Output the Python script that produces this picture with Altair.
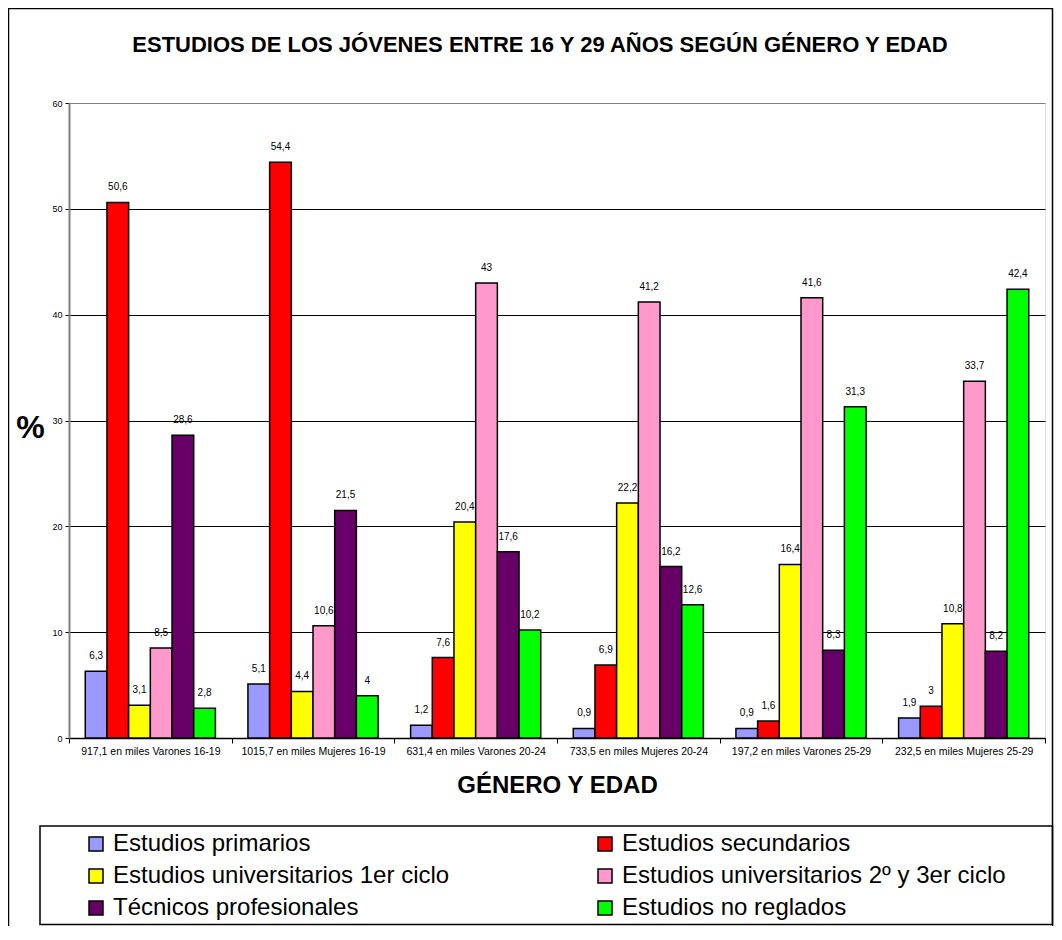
import altair as alt
import pandas as pd

FONT = "Liberation Sans, Arial, sans-serif"

title_text = "ESTUDIOS DE LOS JÓVENES ENTRE 16 Y 29 AÑOS SEGÚN GÉNERO Y EDAD"

groups = [
    "917,1 en miles Varones 16-19",
    "1015,7 en miles Mujeres 16-19",
    "631,4 en miles Varones 20-24",
    "733,5 en miles Mujeres 20-24",
    "197,2 en miles Varones 25-29",
    "232,5 en miles Mujeres 25-29",
]
series = [
    "Estudios primarios",
    "Estudios secundarios",
    "Estudios universitarios 1er ciclo",
    "Estudios universitarios 2º y 3er ciclo",
    "Técnicos profesionales",
    "Estudios no reglados",
]
colors = ["#9999FF", "#FF0000", "#FFFF00", "#FF99CC", "#660066", "#00FF00"]

primarios = [6.3, 5.1, 1.2, 0.9, 0.9, 1.9]
secundarios = [50.6, 54.4, 7.6, 6.9, 1.6, 3.0]
univ_1 = [3.1, 4.4, 20.4, 22.2, 16.4, 10.8]
univ_23 = [8.5, 10.6, 43.0, 41.2, 41.6, 33.7]
tecnicos = [28.6, 21.5, 17.6, 16.2, 8.3, 8.2]
no_reglados = [2.8, 4.0, 10.2, 12.6, 31.3, 42.4]

values = [primarios, secundarios, univ_1, univ_23, tecnicos, no_reglados]

rows = []
for s, vals in zip(series, values):
    for g, v in zip(groups, vals):
        rows.append({"grupo": g, "serie": s, "valor": v,
                     "etiqueta": f"{v:g}".replace(".", ",")})
df = pd.DataFrame(rows)

W, H = 976, 635

x_enc = alt.X(
    "grupo:N", sort=groups,
    scale=alt.Scale(paddingInner=0, paddingOuter=0),
    axis=alt.Axis(
        title="GÉNERO Y EDAD", labelAngle=0, tickBand="extent",
        labelFontSize=10.5, labelColor="black", labelFont=FONT, labelPadding=3,
        tickSize=5, tickColor="black", tickWidth=1,
        domainColor="black", domainWidth=1.5,
        titleFont=FONT, titleFontSize=24, titleFontWeight="bold", titleColor="black",
        titleY=47, titleBaseline="middle", labelLimit=300,
    ),
)
xoff_enc = alt.XOffset("serie:N", sort=series,
                       scale=alt.Scale(paddingOuter=0.75, paddingInner=0))
y_enc = alt.Y(
    "valor:Q",
    scale=alt.Scale(domain=[0, 60], nice=False, zero=True),
    axis=alt.Axis(
        values=[0, 10, 20, 30, 40, 50, 60], title="%",
        labelFontSize=9, labelColor="black", labelFont=FONT, labelPadding=3,
        tickSize=4, tickColor="black", tickWidth=1,
        domainColor="#808080", domainWidth=2,
        grid=True, gridWidth=1,
        gridColor={"condition": {"test": "datum.value == 60 || datum.value == 0",
                                 "value": "#808080"}, "value": "black"},
        titleAngle=0, titleFont=FONT, titleFontSize=32, titleFontWeight="bold",
        titleColor="black", titleX=-39, titleY=324, titleAlign="center",
        titleBaseline="middle",
    ),
)

bars = alt.Chart(df).mark_bar(stroke="black", strokeWidth=1.5).encode(
    x=x_enc, xOffset=xoff_enc, y=y_enc,
    color=alt.Color(
        "serie:N", sort=series, title=None,
        scale=alt.Scale(domain=series, range=colors),
        legend=alt.Legend(
            orient="none", legendX=15, legendY=729, columns=2,
            direction="horizontal",
            columnPadding=143, rowPadding=8,
            symbolType="square", symbolSize=196, symbolStrokeColor="black",
            symbolStrokeWidth=1.5, symbolOpacity=1,
            labelFont=FONT, labelFontSize=24, labelColor="black",
            labelOffset=5, labelLimit=600, padding=0,
        ),
    ),
)

labels = alt.Chart(df).mark_text(
    dy=-15, baseline="middle", fontSize=10, color="black", font=FONT
).encode(x=alt.X("grupo:N", sort=groups), xOffset=xoff_enc,
         y=alt.Y("valor:Q"), text="etiqueta:N")

frame_df = pd.DataFrame({"k": [0]})
title_df = pd.DataFrame({"t": [title_text]})

title_mark = alt.Chart(title_df).mark_text(
    font=FONT, fontSize=22, fontWeight="bold", color="black",
    align="center", baseline="middle"
).encode(x=alt.value(471), y=alt.value(-58), text="t:N")

outer = alt.Chart(frame_df).mark_rect(
    fillOpacity=0, stroke="black", strokeWidth=1.5
).encode(x=alt.value(-60.5), x2=alt.value(983.5), y=alt.value(-94.5), y2=alt.value(900))
legend_box = alt.Chart(frame_df).mark_rect(
    fillOpacity=0, stroke="black", strokeWidth=1.5
).encode(x=alt.value(-29), x2=alt.value(983.5), y=alt.value(723), y2=alt.value(821.5))

chart = alt.layer(bars, labels, title_mark, outer, legend_box).properties(
    width=W, height=H,
    autosize=alt.AutoSizeParams(type="none"),
    padding={"left": 61, "top": 95, "right": 9, "bottom": 188},
).configure_view(stroke="#808080", strokeWidth=2).configure(background="white")

chart.save("out.html", embed_options={"renderer": "svg", "actions": False})
